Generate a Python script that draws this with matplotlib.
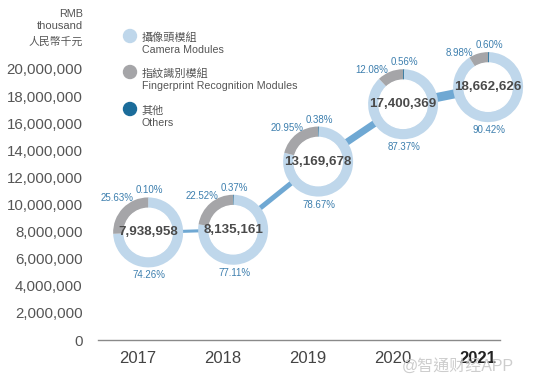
import matplotlib
matplotlib.use('Agg')
import matplotlib.pyplot as plt
from matplotlib.patches import Circle

# ---- data ----
years = ['2017', '2018', '2019', '2020', '2021']
revenue = [7938958, 8135161, 13169678, 17400369, 18662626]
camera_pct = [74.26, 77.11, 78.67, 87.37, 90.42]
finger_pct = [25.63, 22.52, 20.95, 12.08, 8.98]
others_pct = [0.10, 0.37, 0.38, 0.56, 0.60]
yticks = list(range(0, 20000001, 2000000))
legend_zh = ['攝像頭模組', '指紋識別模組', '其他']
legend_en = ['Camera Modules', 'Fingerprint Recognition Modules', 'Others']

# ---- style ----
plt.rcParams['font.family'] = ['Liberation Sans', 'Noto Sans CJK TC', 'DejaVu Sans']
C_CAM = '#bfd7eb'
C_FIN = '#a5a5a8'
C_OTH = '#1b6c9a'
C_LINE = '#6fa8d3'
C_PCT = '#3d7fae'
line_widths = [2.2, 3.6, 5.0, 6.5]

W, H = 540, 384
fig = plt.figure(figsize=(W / 100, H / 100), dpi=100)
fig.patch.set_facecolor('white')

ax = fig.add_axes([98 / W, 44 / H, 402 / W, 271 / H])
ax.set_xlim(-0.47, 4.26)
ax.set_ylim(0, 20000000)
for s in ['top', 'right', 'left']:
    ax.spines[s].set_visible(False)
ax.spines['bottom'].set_color('#8a8a8a')
ax.spines['bottom'].set_linewidth(1.0)
ax.set_yticks(yticks)
ax.set_yticklabels([f'{v:,}' for v in yticks], fontsize=10.8, color='#555555')
ax.set_xticks(range(len(years)))
ax.set_xticklabels(years, fontsize=12, color='#444444')
ax.get_xticklabels()[-1].set_fontweight('bold')
ax.get_xticklabels()[-1].set_color('#222222')
ax.tick_params(axis='y', length=0, pad=11)
ax.tick_params(axis='x', length=0, pad=8)
ax.patch.set_alpha(0)

off = 0.12
xs = [i + off for i in range(len(years))]
for i in range(len(years) - 1):
    ax.plot(xs[i:i + 2], revenue[i:i + 2], color=C_LINE, lw=line_widths[i],
            solid_capstyle='butt', zorder=1)

# donuts
r = 35
for i in range(len(years)):
    cx, cy = ax.transData.transform((xs[i], revenue[i]))
    iax = fig.add_axes([(cx - r) / W, (cy - r) / H, 2 * r / W, 2 * r / H])
    iax.pie([others_pct[i], camera_pct[i], finger_pct[i]],
            colors=[C_OTH, C_CAM, C_FIN], startangle=90, counterclock=False,
            radius=1, wedgeprops=dict(width=0.31, linewidth=0))
    # make the thin "others" slice visible
    iax.add_patch(Circle((0, 0), 0.69, color='white', zorder=3))
    iax.set_xlim(-1, 1)
    iax.set_ylim(-1, 1)
    iax.axis('off')
    iax.text(0, 0, f'{revenue[i]:,}', ha='center', va='center', fontsize=9.6,
             fontweight='bold', color='#4a4a4a', zorder=5)
    iax.annotate(f'{others_pct[i]:.2f}%', (0, 0), xytext=(1, 42),
                 textcoords='offset pixels', ha='center', va='center',
                 fontsize=7, color=C_PCT)
    iax.annotate(f'{finger_pct[i]:.2f}%', (0, 0), xytext=(-15, 34),
                 textcoords='offset pixels', ha='right', va='center',
                 fontsize=7, color=C_PCT)
    iax.annotate(f'{camera_pct[i]:.2f}%', (0, 0), xytext=(1, -43),
                 textcoords='offset pixels', ha='center', va='center',
                 fontsize=7, color=C_PCT)

# y unit label
fig.text(83 / W, 1 - 14 / H, 'RMB', ha='right', va='center', fontsize=7.8, color='#555555')
fig.text(83 / W, 1 - 26 / H, 'thousand', ha='right', va='center', fontsize=8, color='#555555')
fig.text(83 / W, 1 - 42 / H, '人民幣千元', ha='right', va='center', fontsize=7.8, color='#555555')

# legend
lx, ly = [130, 130, 130], [36, 72, 109]
for k, c in enumerate([C_CAM, C_FIN, C_OTH]):
    fig.patches.append(Circle((lx[k], H - ly[k]), 6.5, transform=None, color=c))
    fig.text(142 / W, 1 - (ly[k] + 2) / H, legend_zh[k], ha='left', va='center',
             fontsize=8, color='#555555')
    fig.text(142 / W, 1 - (ly[k] + 14) / H, legend_en[k], ha='left', va='center',
             fontsize=7.7, color='#555555')

# watermark
fig.text(402 / W, 1 - 366 / H, '@智通财经APP', ha='left', va='center',
         fontsize=11.5, color='#c8c8c8', alpha=0.9)

fig.savefig('out.png', dpi=100, facecolor='white')
